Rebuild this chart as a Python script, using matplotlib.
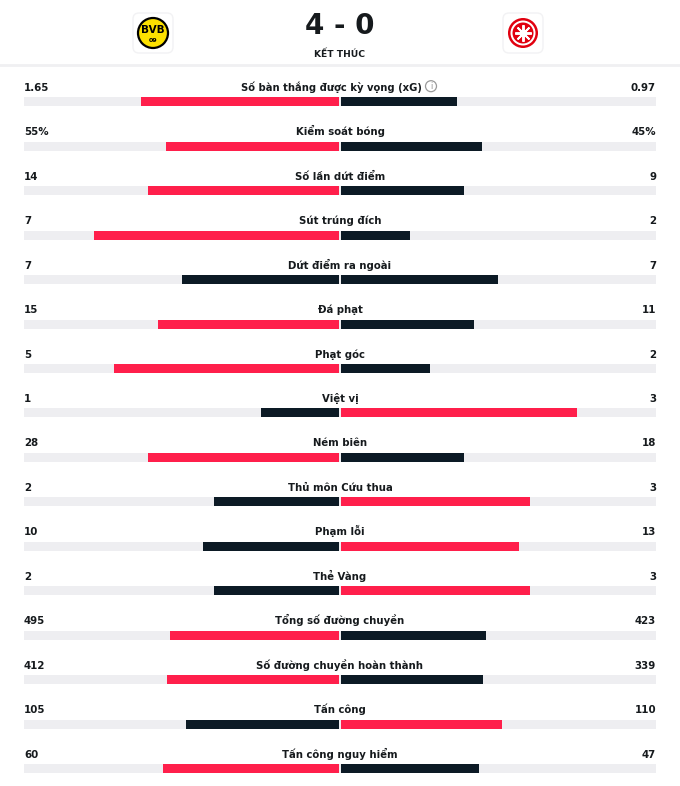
import matplotlib.pyplot as plt
from matplotlib.patches import Circle, FancyBboxPatch

labels = ["Số bàn thắng được kỳ vọng (xG)", "Kiểm soát bóng", "Số lần dứt điểm",
          "Sút trúng đích", "Dứt điểm ra ngoài", "Đá phạt", "Phạt góc", "Việt vị",
          "Ném biên", "Thủ môn Cứu thua", "Phạm lỗi", "Thẻ Vàng",
          "Tổng số đường chuyền", "Số đường chuyền hoàn thành", "Tấn công",
          "Tấn công nguy hiểm"]
home = [1.65, 55, 14, 7, 7, 15, 5, 1, 28, 2, 10, 2, 495, 412, 105, 60]
away = [0.97, 45, 9, 2, 7, 11, 2, 3, 18, 3, 13, 3, 423, 339, 110, 47]
home_txt = ["1.65", "55%", "14", "7", "7", "15", "5", "1", "28", "2", "10", "2",
            "495", "412", "105", "60"]
away_txt = ["0.97", "45%", "9", "2", "7", "11", "2", "3", "18", "3", "13", "3",
            "423", "339", "110", "47"]
score = "4 - 0"
status = "KẾT THÚC"

RED = "#ff1f4b"
DARK = "#0c1a25"
TRACK = "#eeeef1"
TXT = "#161a1d"

plt.rcParams['font.family'] = ['DejaVu Sans Condensed', 'DejaVu Sans']

fig = plt.figure(figsize=(6.8, 7.86), dpi=100)
ax = fig.add_axes([0, 0, 1, 1])
ax.set_xlim(0, 680)
ax.set_ylim(786, 0)
ax.axis("off")

left, right, mid = 24, 656, 340
half = mid - left
base0, step = 90.7, 44.47

# header
ax.text(mid, 34, score, ha="center", va="baseline", fontsize=20, fontweight="bold", color=TXT)
ax.text(mid, 56.7, status, ha="center", va="baseline", fontsize=6.6, fontweight="bold", color=TXT)
ax.axhline(64.5, color="#f0f0f2", lw=2)

for cx in (153, 523):
    ax.add_patch(FancyBboxPatch((cx - 20, 13), 40, 40, boxstyle="round,pad=0,rounding_size=6",
                                fc="white", ec="#f2f2f4", lw=1))
# BVB
ax.add_patch(Circle((153, 33), 15, fc="#fde100", ec="black", lw=1.6))
ax.text(153, 33, "BVB", ha="center", va="baseline", fontsize=7.5, fontweight="bold", color="black")
ax.text(153, 42, "09", ha="center", va="baseline", fontsize=4.5, fontweight="bold", color="black")
# Frankfurt
ax.add_patch(Circle((523, 33), 15, fc="#e1000f", ec="none"))
ax.add_patch(Circle((523, 33), 12.5, fc="white", ec="none"))
ax.add_patch(Circle((523, 33), 10.5, fc="#e1000f", ec="none"))
ax.plot([523], [33], marker=(8, 2, 0), ms=12, mew=1.4, color="white")
ax.add_patch(Circle((523, 33), 4, fc="#e1000f", ec="none"))

for i, lab in enumerate(labels):
    y = base0 + i * step
    by = y + 11
    tot = home[i] + away[i]
    hw = home[i] / tot * half
    aw = away[i] / tot * half
    if home[i] > away[i]:
        hc, ac = RED, DARK
    elif home[i] < away[i]:
        hc, ac = DARK, RED
    else:
        hc, ac = DARK, DARK
    ax.barh(by, right - left, left=left, height=9, color=TRACK)
    ax.barh(by, hw - 0.6, left=mid - hw, height=9, color=hc)
    ax.barh(by, aw - 0.6, left=mid + 0.6, height=9, color=ac)
    ax.text(left, y, home_txt[i], ha="left", va="baseline", fontsize=7.4, fontweight="bold", color=TXT)
    ax.text(right, y, away_txt[i], ha="right", va="baseline", fontsize=7.4, fontweight="bold", color=TXT)
    if i == 0:
        # label and info icon are centred together
        ax.text(422, y, lab, ha="right", va="baseline", fontsize=7.2, fontweight="bold", color=TXT)
    else:
        ax.text(mid, y, lab, ha="center", va="baseline", fontsize=7.3, fontweight="bold", color=TXT)

# info icon next to xG
ax.add_patch(Circle((431, base0 - 4.5), 5.5, fc="white", ec="#9a9a9a", lw=0.9))
ax.text(431, base0 - 4, "i", ha="center", va="center", fontsize=5.5, color="#8a8a8a")

fig.savefig("out.png", dpi=100, facecolor="white")
